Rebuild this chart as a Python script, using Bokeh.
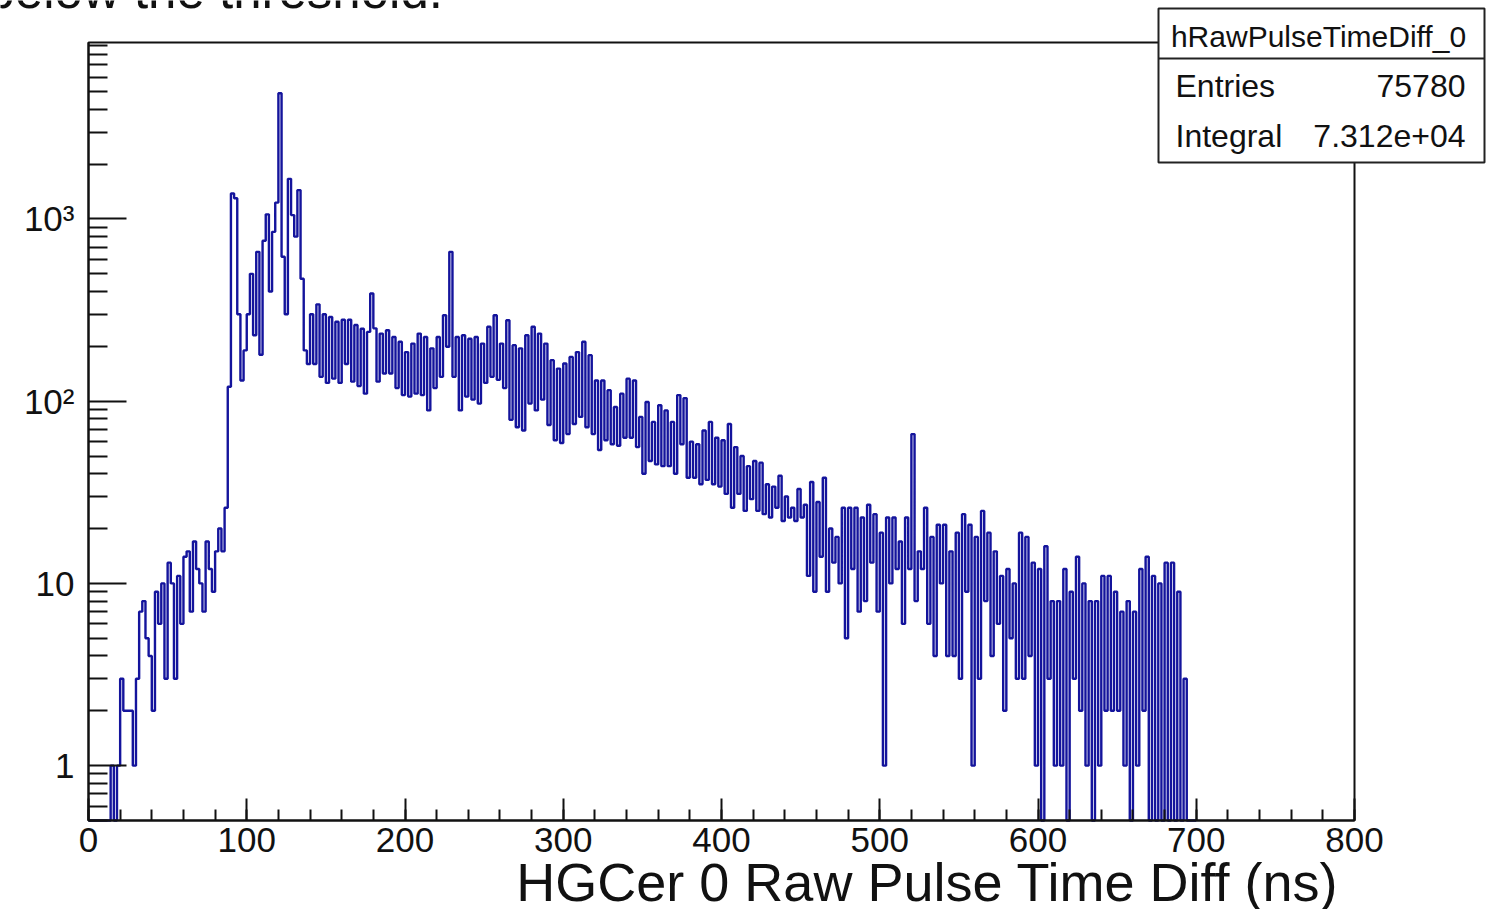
import numpy as np
from bokeh.plotting import figure
from bokeh.models import (LinearAxis, LogAxis, FixedTicker, Label,
                          BoxAnnotation, Range1d)
from bokeh.embed import file_html
from bokeh.resources import INLINE

# ---------------- data (counts per 2 ns bin) -------------
bin_width_ns = 2
x_start_ns = 0

counts_0_100 = [0, 0, 0, 0, 0, 0, 0,
                1, 0, 1, 3, 2, 2, 2, 1, 3, 7,
                8, 5, 4, 2, 9, 6, 10, 3, 13, 10,
                3, 11, 6, 14, 15, 7, 17, 12, 10, 7,
                17, 12, 9, 15, 20, 15, 26, 120, 1380, 1300,
                300, 130, 190]
counts_100_200 = [300, 500, 230, 660, 180, 760, 1060, 400, 850, 1230,
                  4900, 620, 300, 1660, 1050, 800, 1440, 470, 190, 160,
                  300, 160, 340, 136, 300, 126, 290, 133, 273, 126,
                  280, 160, 280, 128, 262, 121, 250, 110, 240, 390,
                  251, 128, 235, 142, 245, 142, 225, 118, 212, 108]
counts_200_300 = [186, 106, 207, 110, 235, 108, 225, 89, 195, 118,
                  225, 136, 296, 199, 660, 136, 225, 89, 230, 106,
                  220, 102, 225, 97, 207, 126, 256, 136, 296, 131,
                  207, 118, 278, 79, 203, 72, 195, 69, 230, 97,
                  256, 89, 235, 102, 207, 74, 168, 61, 151, 59]
counts_300_400 = [161, 66, 175, 75, 186, 82, 212, 72, 179, 66,
                  130, 54, 130, 61, 115, 58, 93, 57, 110, 63,
                  133, 63, 130, 56, 82, 40, 99, 47, 77, 45,
                  95, 44, 89, 44, 77, 40, 108, 58, 104, 38,
                  60, 38, 58, 35, 69, 37, 77, 35, 63, 34]
counts_400_500 = [61, 31, 75, 26, 56, 31, 50, 25, 44, 29,
                  47, 25, 46, 24, 35, 23, 34, 26, 39, 22,
                  30, 23, 26, 22, 33, 23, 27, 11, 36, 9,
                  28, 14, 38, 9, 20, 13, 18, 10, 26, 5,
                  26, 12, 26, 7, 23, 8, 27, 13, 24, 7]
counts_500_600 = [19, 1, 23, 10, 23, 12, 17, 6, 23, 12,
                  66, 8, 15, 12, 26, 6, 18, 4, 21, 10,
                  21, 4, 15, 4, 19, 3, 24, 9, 21, 1,
                  18, 3, 25, 8, 19, 4, 15, 6, 11, 2,
                  12, 5, 10, 3, 19, 3, 18, 4, 13, 1]
counts_600_700 = [12, 0, 16, 3, 8, 1, 8, 1, 12, 0,
                  9, 3, 14, 2, 10, 1, 8, 0, 8, 1,
                  11, 2, 11, 2, 9, 2, 7, 1, 8, 0,
                  7, 1, 12, 2, 14, 0, 11, 0, 10, 0,
                  13, 0, 13, 0, 9, 0, 3, 0, 0, 0]

hist_name = "hRawPulseTimeDiff_0"
stat_names = ["Entries", "Integral"]
stat_values = ["75780", "7.312e+04"]
x_title = "HGCer 0 Raw Pulse Time Diff (ns)"
slide_text = "below the threshold."
x_axis_min, x_axis_max = 0, 800
y_axis_min, y_axis_max = 0.5, 9300
x_tick_values = [0, 100, 200, 300, 400, 500, 600, 700, 800]
y_tick_values = [1, 10, 100, 1000]
y_tick_labels = ["1", "10", "10\u00b2", "10\u00b3"]

# ---------------- layout geometry (canvas pixels) ----------------
W, H = 1486, 909
FRAME_L, FRAME_R, FRAME_T, FRAME_B = 88, 1354, 42, 820

px_per_ns = (FRAME_R - FRAME_L) / (x_axis_max - x_axis_min)
x_lo = x_axis_min - FRAME_L / px_per_ns
x_hi = x_axis_max + (W - FRAME_R) / px_per_ns
px_per_dec = (FRAME_B - FRAME_T) / np.log10(y_axis_max / y_axis_min)
y_lo = y_axis_min * 10 ** (-(H - FRAME_B) / px_per_dec)
y_hi = y_axis_max * 10 ** (FRAME_T / px_per_dec)

# ---------------- build step outline ----------------
counts = np.array(counts_0_100 + counts_100_200 + counts_200_300 + counts_300_400
                  + counts_400_500 + counts_500_600 + counts_600_700, dtype=float)
edges = x_start_ns + bin_width_ns * np.arange(len(counts) + 1)
xs = np.repeat(edges, 2)[1:-1]
ys = np.repeat(counts, 2)
ys = np.maximum(ys, y_axis_min)  # ROOT clips at the axis minimum

FONT = "Liberation Sans"
INK = "#111111"

p = figure(width=W, height=H,
           x_range=Range1d(x_lo, x_hi), y_range=Range1d(y_lo, y_hi),
           y_axis_type="log", x_axis_location=None, y_axis_location=None,
           output_backend="svg", toolbar_location=None, min_border=0)
p.outline_line_color = None
p.background_fill_color = "white"
p.border_fill_color = "white"
p.xgrid.visible = False
p.ygrid.visible = False

p.line(xs, ys, line_color="#14149c", line_width=2.4)

# bottom axis, drawn at y = y_axis_min
xa = LinearAxis(ticker=FixedTicker(ticks=x_tick_values,
                                   minor_ticks=list(range(x_axis_min, x_axis_max + 1, 20))),
                fixed_location=y_axis_min, bounds=(x_axis_min, x_axis_max))
xa.axis_line_width = 2
xa.axis_line_color = INK
xa.major_tick_in = 22
xa.major_tick_out = 0
xa.minor_tick_in = 11
xa.minor_tick_out = 0
xa.major_tick_line_width = 2
xa.minor_tick_line_width = 2
xa.major_tick_line_color = INK
xa.minor_tick_line_color = INK
xa.major_label_text_font = FONT
xa.major_label_text_font_size = "35px"
xa.major_label_text_color = INK
xa.major_label_standoff = 7
p.add_layout(xa, "below")

# left axis, drawn at x = x_axis_min
minor_y = ([0.5, 0.6, 0.7, 0.8, 0.9] + [2, 3, 4, 5, 6, 7, 8, 9]
           + [20, 30, 40, 50, 60, 70, 80, 90]
           + [200, 300, 400, 500, 600, 700, 800, 900]
           + [2000, 3000, 4000, 5000, 6000, 7000, 8000, 9000])
ya = LogAxis(ticker=FixedTicker(ticks=y_tick_values, minor_ticks=minor_y),
             fixed_location=x_axis_min, bounds=(y_axis_min, y_axis_max))
ya.axis_line_width = 2
ya.axis_line_color = INK
ya.major_tick_in = 38
ya.major_tick_out = 0
ya.minor_tick_in = 19
ya.minor_tick_out = 0
ya.major_tick_line_width = 2
ya.minor_tick_line_width = 2
ya.major_tick_line_color = INK
ya.minor_tick_line_color = INK
ya.major_label_text_font = FONT
ya.major_label_text_font_size = "35px"
ya.major_label_text_color = INK
ya.major_label_standoff = 14
ya.major_label_overrides = {v: s for v, s in zip(y_tick_values, y_tick_labels)}
p.add_layout(ya, "left")

# ROOT frame rectangle
p.add_layout(BoxAnnotation(left=x_axis_min, right=x_axis_max,
                           bottom=y_axis_min, top=y_axis_max,
                           fill_alpha=0, line_color=INK, line_alpha=1.0,
                           line_width=2, level="annotation"))


def sx(px):
    return px


def sy(py):
    return H - py


def text_y(baseline_px, size_px):
    # Bokeh puts the glyph baseline ~0.39 em below the anchor; compensate
    return sy(baseline_px - 0.39 * size_px)


# stats box
p.add_layout(BoxAnnotation(left=sx(1158), right=sx(1484), top=sy(8), bottom=sy(162),
                           left_units="screen", right_units="screen",
                           top_units="screen", bottom_units="screen",
                           fill_color="white", fill_alpha=1.0,
                           line_color="#222222", line_alpha=1.0, line_width=2,
                           level="annotation"))
p.add_layout(BoxAnnotation(left=sx(1158), right=sx(1484), top=sy(57), bottom=sy(59),
                           left_units="screen", right_units="screen",
                           top_units="screen", bottom_units="screen",
                           fill_color="#222222", fill_alpha=1.0,
                           line_color=None, level="annotation"))

p.add_layout(Label(x=sx(1318), y=text_y(48, 30), x_units="screen", y_units="screen",
                   text=hist_name, text_align="center", text_baseline="alphabetic",
                   text_font=FONT, text_font_size="30px", text_color=INK))
for i, (nm, val) in enumerate(zip(stat_names, stat_values)):
    base = 98 + 50 * i
    p.add_layout(Label(x=sx(1175), y=text_y(base, 32), x_units="screen", y_units="screen",
                       text=nm, text_align="left", text_baseline="alphabetic",
                       text_font=FONT, text_font_size="32px", text_color=INK))
    p.add_layout(Label(x=sx(1465), y=text_y(base, 32), x_units="screen", y_units="screen",
                       text=val, text_align="right", text_baseline="alphabetic",
                       text_font=FONT, text_font_size="32px", text_color=INK))

# axis title (ROOT style: right aligned at the axis end)
p.add_layout(Label(x=sx(1338), y=text_y(903, 54), x_units="screen", y_units="screen",
                   text=x_title, text_align="right", text_baseline="alphabetic",
                   text_font=FONT, text_font_size="54px", text_color=INK))

# cut-off slide text at the very top
p.add_layout(Label(x=sx(-14), y=text_y(10, 51), x_units="screen", y_units="screen",
                   text=slide_text, text_align="left", text_baseline="alphabetic",
                   text_font=FONT, text_font_size="51px", text_color=INK))

open("out.html", "w").write(file_html(p, INLINE))
